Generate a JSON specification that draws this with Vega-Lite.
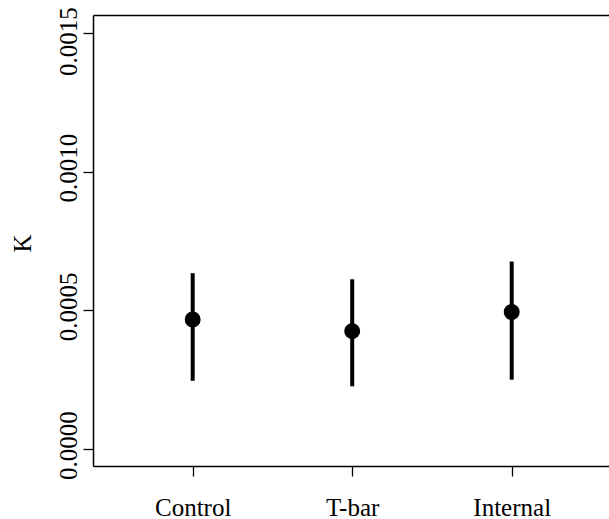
{
  "$schema": "https://vega.github.io/schema/vega-lite/v6.json",
  "width": 516,
  "height": 451,
  "autosize": {"type": "none"},
  "padding": {"left": 93, "top": 15, "right": 0, "bottom": 53},
  "background": "white",
  "config": {
    "view": {"stroke": null},
    "axis": {"grid": false, "domainColor": "black", "tickColor": "black", "labelColor": "black", "titleColor": "black", "labelFont": "Liberation Serif", "titleFont": "Liberation Serif", "labelFontSize": 25, "titleFontSize": 25, "titleFontWeight": "normal", "domainWidth": 1.5, "tickWidth": 1.3, "tickSize": 10}
  },
  "data": {"values": [
    {"group": "Control", "x": 1, "k": 0.000467, "lo": 0.000246, "hi": 0.000634},
    {"group": "T-bar", "x": 2, "k": 0.000425, "lo": 0.000226, "hi": 0.000612},
    {"group": "Internal", "x": 3, "k": 0.000494, "lo": 0.00025, "hi": 0.000676}
  ]},
  "layer": [
    {
      "mark": {"type": "rule", "color": "black", "strokeWidth": 4},
      "encoding": {
        "x": {"field": "x", "type": "quantitative", "scale": {"domain": [0.375, 3.61], "nice": false, "zero": false},
              "axis": {"orient": "bottom", "values": [1, 2, 3], "title": null, "labelExpr": "datum.value == 1 ? 'Control' : datum.value == 2 ? 'T-bar' : 'Internal'", "labelPadding": 19, "labelFlush": false}},
        "y": {"field": "lo", "type": "quantitative", "scale": {"domain": [-0.0000613, 0.001565], "nice": false, "zero": false},
              "axis": {"values": [0, 0.0005, 0.001, 0.0015], "format": ".4f", "title": "K", "labelAngle": -90, "labelAlign": "center", "labelBaseline": "alphabetic", "labelPadding": 7, "labelFlush": false,
                       "labelOffset": {"condition": {"test": "datum.value > 0.0014", "value": 8}, "value": -4},
                       "titleAngle": -90, "titleAlign": "center", "titleBaseline": "alphabetic", "titleX": -63, "titleY": 228}},
        "y2": {"field": "hi"}
      }
    },
    {
      "mark": {"type": "point", "filled": true, "color": "black", "opacity": 1, "size": 254, "shape": "circle"},
      "encoding": {
        "x": {"field": "x", "type": "quantitative", "axis": {"orient": "top", "ticks": false, "labels": false, "title": null, "domain": true}},
        "y": {"field": "k", "type": "quantitative"}
      }
    }
  ],
  "resolve": {"axis": {"x": "independent"}}
}
